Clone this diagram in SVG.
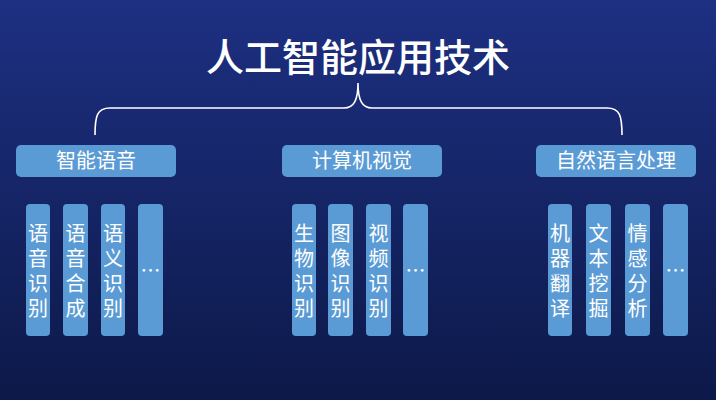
<svg xmlns="http://www.w3.org/2000/svg" width="716" height="400" viewBox="0 0 716 400">
<defs>
<linearGradient id="bg" x1="0" y1="0" x2="0" y2="1">
<stop offset="0" stop-color="#1d3082"/>
<stop offset="1" stop-color="#0d1949"/>
</linearGradient>
<style>
.cat{fill:#5b9bd5;}
.item{fill:#5b9bd5;}
.t{font-family:"Noto Sans CJK SC","Noto Sans",sans-serif;fill:#ffffff;text-anchor:middle;}
.ct{font-size:20px;}
.vt{font-size:20px;writing-mode:vertical-rl;letter-spacing:5px;}
.dots{font-size:20px;}
.title{font-size:38px;font-weight:500;}
.brace{fill:none;stroke:#ffffff;stroke-width:1.6;}
</style>
</defs>
<rect x="0" y="0" width="716" height="400" fill="url(#bg)"/>
<g id="title"><text class="t title" x="358" y="71">人工智能应用技术</text></g>
<g id="connectors">
<path class="brace" d="M95,135 C95,116 97,108 110,108 L344,108 C354,108 358,100 358,83 C358,100 362,108 372,108 L607,108 C620,108 622,116 622,135"/>
</g>
<g id="cat-speech"><rect class="cat" x="16" y="145" width="160" height="32" rx="5"/><text class="t ct" x="96" y="168">智能语音</text></g>
<g id="cat-vision"><rect class="cat" x="282" y="145" width="160" height="32" rx="5"/><text class="t ct" x="362" y="168">计算机视觉</text></g>
<g id="cat-nlp"><rect class="cat" x="536" y="145" width="160" height="32" rx="5"/><text class="t ct" x="616" y="168">自然语言处理</text></g>

<g id="s1"><rect class="item" x="26" y="204" width="24" height="132" rx="4"/><text class="t vt" x="38" y="273">语音识别</text></g>
<g id="s2"><rect class="item" x="63" y="204" width="25" height="132" rx="4"/><text class="t vt" x="75.5" y="273">语音合成</text></g>
<g id="s3"><rect class="item" x="101" y="204" width="24" height="132" rx="4"/><text class="t vt" x="113" y="273">语义识别</text></g>
<g id="s4"><rect class="item" x="138" y="204" width="25" height="132" rx="4"/><text class="t dots" x="150.5" y="278">…</text></g>

<g id="v1"><rect class="item" x="292" y="204" width="24" height="132" rx="4"/><text class="t vt" x="304" y="273">生物识别</text></g>
<g id="v2"><rect class="item" x="328" y="204" width="25" height="132" rx="4"/><text class="t vt" x="340.5" y="273">图像识别</text></g>
<g id="v3"><rect class="item" x="366" y="204" width="25" height="132" rx="4"/><text class="t vt" x="378.5" y="273">视频识别</text></g>
<g id="v4"><rect class="item" x="403" y="204" width="25" height="132" rx="4"/><text class="t dots" x="415.5" y="278">…</text></g>

<g id="n1"><rect class="item" x="548" y="204" width="24" height="132" rx="4"/><text class="t vt" x="560" y="273">机器翻译</text></g>
<g id="n2"><rect class="item" x="586" y="204" width="25" height="132" rx="4"/><text class="t vt" x="598.5" y="273">文本挖掘</text></g>
<g id="n3"><rect class="item" x="625" y="204" width="25" height="132" rx="4"/><text class="t vt" x="637.5" y="273">情感分析</text></g>
<g id="n4"><rect class="item" x="663" y="204" width="25" height="132" rx="4"/><text class="t dots" x="675.5" y="278">…</text></g>
</svg>
